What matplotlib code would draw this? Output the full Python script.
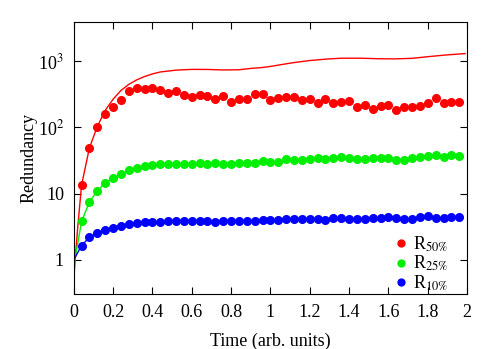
import matplotlib
matplotlib.use('Agg')
import matplotlib.pyplot as plt
import matplotlib.ticker as mticker
import numpy as np

plt.rcParams['font.family'] = ['Liberation Serif', 'DejaVu Serif']
plt.rcParams['mathtext.fontset'] = 'stix'

# sampled times
t = [0.04 * k for k in range(1, 50)]

r50 = [13.5, 49, 102, 158, 203, 256, 354, 393, 383, 398, 366, 329, 350, 306, 287, 303, 294,
       266, 294, 241, 266, 266, 318, 318, 256, 277, 290, 290, 258, 266, 233, 266, 233, 238,
       250, 203, 219, 191, 210, 217, 185, 203, 206, 210, 236, 275, 233, 241, 238]
r25 = [3.8, 7.5, 11, 14.5, 17.3, 19.8, 22.5, 24.2, 26.2, 27.1, 27.8, 28.0, 28.0, 27.8, 28.4,
       28.6, 28.4, 28.5, 28.3, 28.3, 29.1, 28.5, 28.8, 31.3, 30.1, 30.4, 33, 32.4, 32.4, 33,
       34.4, 33.7, 34.3, 35.3, 34, 33.7, 33.2, 34.9, 34.9, 34.9, 32.6, 32.6, 34.4, 36.3, 36.6,
       37.9, 36.3, 38.9, 36.6]
r10 = [1.64, 2.2, 2.55, 2.86, 3.07, 3.26, 3.45, 3.57, 3.7, 3.78, 3.78, 3.83, 3.83, 3.87, 3.87,
       3.85, 3.8, 3.75, 3.83, 3.8, 3.8, 3.8, 3.92, 4.0, 4.0, 4.05, 4.1, 4.1, 4.1, 4.1, 4.1, 4.0,
       4.35, 4.25, 4.2, 4.2, 4.2, 4.25, 4.25, 4.4, 4.3, 4.2, 4.2, 4.45, 4.55, 4.3, 4.35, 4.4, 4.4]

# starting values at t=0
r50_0, r25_0, r10_0 = 0.5, 0.8, 1.0

# red theory curve
t_curve = [0, 0.02, 0.04, 0.08, 0.12, 0.16, 0.2, 0.24, 0.28, 0.32, 0.36, 0.4, 0.44, 0.52,
           0.6, 0.68, 0.76, 0.84, 0.9, 0.95, 1.0, 1.06, 1.12, 1.2, 1.29, 1.36, 1.46, 1.55,
           1.63, 1.72, 1.8, 1.89, 1.99]
r50_curve = [0.5, 3.0, 13.5, 49, 103, 180, 265, 360, 445, 520, 585, 640, 685, 730,
             750, 748, 735, 740, 775, 795, 830, 890, 950, 1020, 1075, 1105, 1105, 1085,
             1080, 1100, 1165, 1235, 1300]

fig = plt.figure(figsize=(4.98, 3.49), dpi=100)
ax = fig.add_axes([0.148, 0.158, 0.790, 0.780])

ax.plot(t_curve, r50_curve, color='red', lw=1.0)
ax.plot([0] + t, [r25_0] + r25, color='#00ee00', lw=1.0)
ax.plot([0] + t, [r10_0] + r10, color='blue', lw=1.0)

ax.plot(t, r50, 'o', color='red', ms=5.5, label=r'R$_{50\%}$')
ax.plot(t, r25, 'o', color='#00ee00', ms=5.5, label=r'R$_{25\%}$')
ax.plot(t, r10, 'o', color='blue', ms=5.5, label=r'R$_{10\%}$')

ax.set_yscale('log')
ax.set_xlim(0, 2)
ax.set_ylim(0.307, 3940)
ax.set_xticks(np.arange(0, 2.01, 0.2))
ax.set_xticklabels(['0', '0.2', '0.4', '0.6', '0.8', '1', '1.2', '1.4', '1.6', '1.8', '2'])
ax.yaxis.set_major_locator(mticker.FixedLocator([1, 10, 100, 1000]))
ax.yaxis.set_minor_locator(mticker.NullLocator())
ax.set_yticklabels(['1', '10', r'10$^2$', r'10$^3$'])
ax.tick_params(direction='in', top=True, right=True, length=5, labelsize=13, pad=7)

ax.set_xlabel('Time (arb. units)', fontsize=13, labelpad=9)
ax.set_ylabel('Redundancy', fontsize=13, labelpad=0)

ax.legend(loc='lower right', frameon=False, fontsize=13, handletextpad=0.1,
          labelspacing=0.0, borderaxespad=0, handlelength=1.2, markerscale=0.9,
          bbox_to_anchor=(0.972, -0.022))

fig.savefig('out.png', dpi=100)
